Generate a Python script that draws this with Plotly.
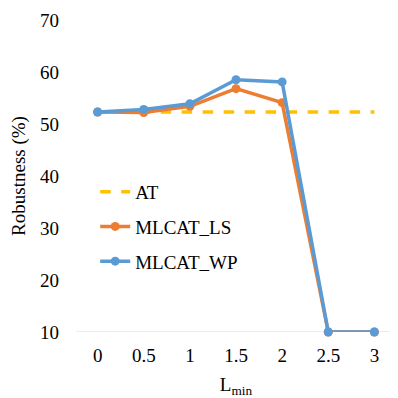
import plotly.graph_objects as go

# Lmin values (categories)
lmin = ["0", "0.5", "1", "1.5", "2", "2.5", "3"]

# robustness (%) per series
at = [52.3, 52.3, 52.3, 52.3, 52.3, 52.3, 52.3]
mlcat_ls = [52.3, 52.2, 53.4, 56.8, 54.1, 10.0, 10.0]
mlcat_wp = [52.3, 52.8, 53.9, 58.5, 58.1, 10.0, 10.0]

font_family = "'Liberation Serif', 'Times New Roman', serif"

fig = go.Figure()

fig.add_trace(go.Scatter(
    x=lmin, y=at, name="AT", mode="lines",
    line=dict(color="#FFC000", width=3.5, dash="dash"),
    legendgroup="a", cliponaxis=False,
))
fig.add_trace(go.Scatter(
    x=lmin, y=mlcat_ls, name="MLCAT_LS", mode="lines+markers",
    line=dict(color="#ED7D31", width=3.5),
    marker=dict(size=9, color="#ED7D31"),
    legendgroup="b", cliponaxis=False,
))
fig.add_trace(go.Scatter(
    x=lmin, y=mlcat_wp, name="MLCAT_WP", mode="lines+markers",
    line=dict(color="#5B9BD5", width=3.5),
    marker=dict(size=9, color="#5B9BD5"),
    legendgroup="c", cliponaxis=False,
))

# page body has an 8px margin, so the figure is a bit smaller than the window
fig.update_layout(
    width=390, height=390,
    margin=dict(l=68, r=2, t=12, b=66, autoexpand=False),
    paper_bgcolor="white",
    plot_bgcolor="white",
    font=dict(family=font_family, size=19, color="black"),
    showlegend=True,
    legend=dict(
        x=0.06, y=0.51, xanchor="left", yanchor="top",
        bgcolor="rgba(0,0,0,0)",
        font=dict(family=font_family, size=19),
        tracegroupgap=7,
        traceorder="grouped",
    ),
    xaxis=dict(
        type="category",
        automargin=False,
        showgrid=False,
        showline=False,
        zeroline=False,
        ticks="",
        ticklabelstandoff=10,
        tickfont=dict(family=font_family, size=19),
        title=dict(text="L<sub>min</sub>", font=dict(family=font_family, size=19)),
    ),
    yaxis=dict(
        range=[10, 70],
        tickvals=[10, 20, 30, 40, 50, 60, 70],
        automargin=False,
        showgrid=False,
        zeroline=False,
        showline=False,
        ticks="",
        ticklabelstandoff=16,
        ticklabeloverflow="allow",
        tickfont=dict(family=font_family, size=19),
        title=dict(text="Robustness (%)", font=dict(family=font_family, size=19)),
    ),
    shapes=[dict(
        type="line", xref="paper", yref="y", x0=0, x1=1, y0=10, y1=10,
        line=dict(color="#D9D9D9", width=1), layer="below",
    )],
)

fig.write_html("out.html")
